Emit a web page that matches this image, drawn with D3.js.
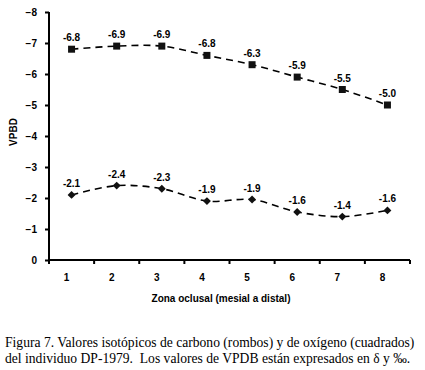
<!DOCTYPE html>
<html lang="es">
<head>
<meta charset="UTF-8" />
<title>Figura 7</title>
<script src="https://cdn.jsdelivr.net/npm/d3@7"></script>
<style>
  body { margin: 0; background: #fff; }
  .tick text, .lbl, .axtitle { font-family: "Liberation Sans", Arial, sans-serif; font-weight: bold; font-size: 10px; fill: #000; }
  .caption { font-family: "Liberation Serif", "Times New Roman", serif; font-size: 13.6px; fill: #000; white-space: pre; }
</style>
</head>
<body>
<div id="chart"></div>
<script>
// zones along the tooth, mesial to distal
var zones = ["1", "2", "3", "4", "5", "6", "7", "8"];
// oxygen (squares) and carbon (diamonds), VPDB
var oxigeno = [-6.8, -6.9, -6.9, -6.6, -6.3, -5.9, -5.5, -5.0];
var oxigenoLbl = ["-6.8", "-6.9", "-6.9", "-6.8", "-6.3", "-5.9", "-5.5", "-5.0"];
var carbono = [-2.1, -2.4, -2.3, -1.9, -1.95, -1.55, -1.4, -1.6];
var carbonoLbl = ["-2.1", "-2.4", "-2.3", "-1.9", "-1.9", "-1.6", "-1.4", "-1.6"];
var yTicks = [0, -1, -2, -3, -4, -5, -6, -7, -8];

var w = 425, h = 370;
var mLeft = 49, mRight = 410, mTop = 12, mBottom = 260;

var svg = d3.select("#chart").append("svg")
  .attr("width", w)
  .attr("height", h);

var xScale = d3.scaleBand().domain(zones).range([mLeft, mRight]);
var yScale = d3.scaleLinear().domain([0, -8]).range([mBottom, mTop]);

// y axis
var yAxis = d3.axisLeft(yScale).tickValues(yTicks).tickSize(4).tickPadding(8)
  .tickFormat(function(d) { return d === 0 ? "0" : d3.format("d")(d); });
var gy = svg.append("g")
  .attr("transform", "translate(" + mLeft + ",0)")
  .call(yAxis);
gy.select(".domain").attr("stroke", "#000").attr("stroke-width", 2).attr("d", "M0," + mTop + "V" + mBottom);
gy.selectAll(".tick line").attr("stroke-width", 2);

// x axis, ticks between categories
var gx = svg.append("g")
  .attr("transform", "translate(0," + mBottom + ")")
  .call(d3.axisBottom(xScale).tickSize(0).tickPadding(14));
gx.select(".domain").attr("stroke", "#000").attr("stroke-width", 2).attr("d", "M" + mLeft + ",0H" + mRight);
gx.selectAll(".tick text").attr("dx", -5);
gx.selectAll("line.sep")
  .data(d3.range(zones.length + 1))
  .enter().append("line")
  .attr("x1", function(i) { return mLeft + i * xScale.bandwidth(); })
  .attr("x2", function(i) { return mLeft + i * xScale.bandwidth(); })
  .attr("y1", 0).attr("y2", 4)
  .attr("stroke", "#000").attr("stroke-width", 2);

function cx(d, i) { return xScale(zones[i]) + xScale.bandwidth() / 2; }

var line = d3.line()
  .x(cx)
  .y(function(d) { return yScale(d); })
  .curve(d3.curveCatmullRom.alpha(0.5));

[oxigeno, carbono].forEach(function(s) {
  svg.append("path")
    .datum(s)
    .attr("d", line)
    .attr("fill", "none")
    .attr("stroke", "#000")
    .attr("stroke-width", 1.6)
    .attr("stroke-dasharray", "7,5");
});

// squares
svg.selectAll("rect.sq")
  .data(oxigeno)
  .enter().append("rect")
  .attr("class", "sq")
  .attr("x", function(d, i) { return cx(d, i) - 3.5; })
  .attr("y", function(d) { return yScale(d) - 3.5; })
  .attr("width", 7).attr("height", 7)
  .attr("fill", "#111");

// diamonds
svg.selectAll("path.dm")
  .data(carbono)
  .enter().append("path")
  .attr("class", "dm")
  .attr("d", d3.symbol().type(d3.symbolDiamond2).size(40))
  .attr("transform", function(d, i) { return "translate(" + cx(d, i) + "," + yScale(d) + ")"; })
  .attr("fill", "#111");

// data labels
svg.selectAll("text.lo")
  .data(oxigeno)
  .enter().append("text")
  .attr("class", "lbl")
  .attr("text-anchor", "middle")
  .attr("x", cx)
  .attr("y", function(d) { return yScale(d) - 8; })
  .text(function(d, i) { return oxigenoLbl[i]; });

svg.selectAll("text.lc")
  .data(carbono)
  .enter().append("text")
  .attr("class", "lbl")
  .attr("text-anchor", "middle")
  .attr("x", cx)
  .attr("y", function(d) { return yScale(d) - 8; })
  .text(function(d, i) { return carbonoLbl[i]; });

// axis titles
svg.append("text")
  .attr("class", "axtitle")
  .attr("text-anchor", "middle")
  .attr("transform", "translate(17,132) rotate(-90)")
  .text("VPBD");

svg.append("text")
  .attr("class", "axtitle")
  .attr("text-anchor", "middle")
  .attr("x", 221).attr("y", 302)
  .text("Zona oclusal (mesial a distal)");

// caption
svg.append("text").attr("class", "caption").attr("x", 5).attr("y", 347)
  .text("Figura 7. Valores isotópicos de carbono (rombos) y de oxígeno (cuadrados)");
svg.append("text").attr("class", "caption").attr("x", 5).attr("y", 363)
  .text("del individuo DP-1979.  Los valores de VPDB están expresados en δ y ‰.");
</script>
</body>
</html>
